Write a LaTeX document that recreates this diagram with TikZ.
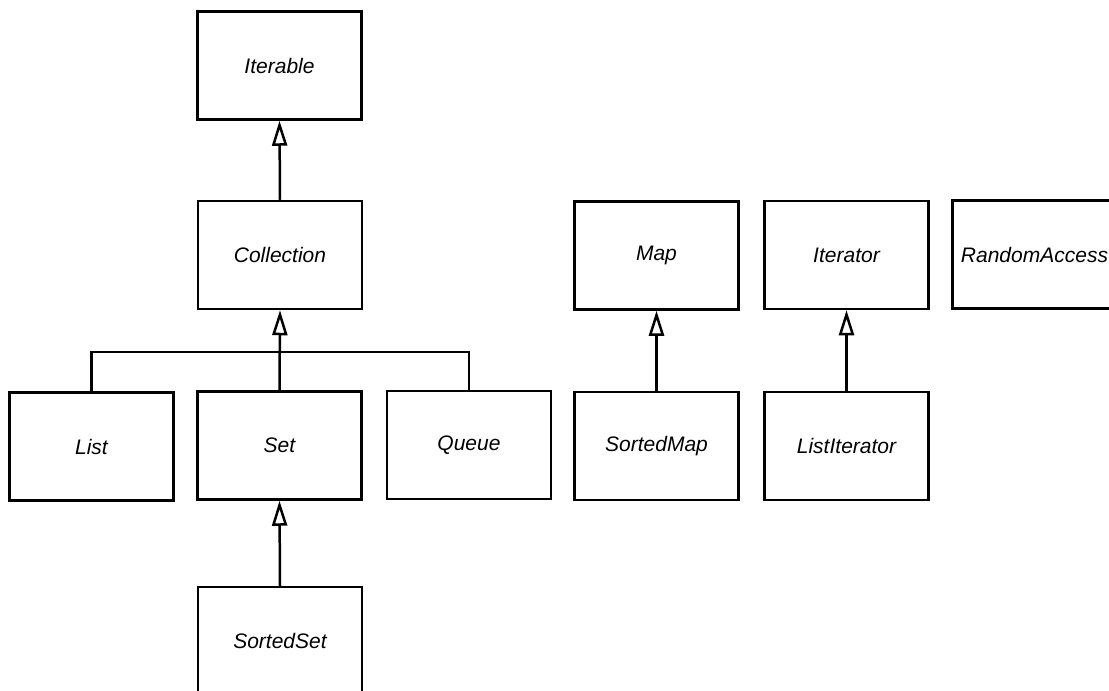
\documentclass[tikz,border=0pt]{standalone}
\usepackage{fontspec}
\setmainfont{Liberation Sans}
\usetikzlibrary{arrows.meta}
\tikzset{
  iface/.style={draw, line width=2.5pt, fill=white, minimum width=164pt,
    minimum height=108pt, inner sep=0pt, font=\fontsize{21}{25}\selectfont\itshape},
  wire/.style={line width=2.5pt},
  inherit/.style={wire, -{Triangle[length=25pt, width=15pt, fill=white, line width=2.5pt]}}
}
\begin{document}
\begin{tikzpicture}[x=1pt, y=-1pt]
\useasboundingbox (0,0) rectangle (1109,691);

% collection hierarchy
\node[iface] (iterable)   at (279.5,65.5) {Iterable};
\node[iface] (collection) at (280,255)    {Collection};
\node[iface] (list)       at (91.5,446.5) {List};
\node[iface] (set)        at (279.5,445.5){Set};
\node[iface] (queue)      at (469,445)    {Queue};
\node[iface] (sortedset)  at (280,641)    {SortedSet};

% maps, iterators and marker interface
\node[iface] (map)          at (656.5,255.5) {Map};
\node[iface] (iterator)     at (846.5,255)   {Iterator};
\node[iface] (randomaccess) at (1034.5,254.5){RandomAccess};
\node[iface] (sortedmap)    at (656.5,446)   {SortedMap};
\node[iface] (listiterator) at (846.5,446)   {ListIterator};

% junction bar shared by List, Set and Queue
\coordinate (hub) at (collection.south |- 0,352);

\draw[inherit] (collection.north) -- (iterable.south);
\draw[wire] (list.north) |- (hub);
\draw[wire] (queue.north) |- (hub);
\draw[inherit] (set.north) -- (collection.south);
\draw[inherit] (sortedset.north) -- (set.south);
\draw[inherit] (sortedmap.north) -- (map.south);
\draw[inherit] (listiterator.north) -- (iterator.south);
\end{tikzpicture}
\end{document}
